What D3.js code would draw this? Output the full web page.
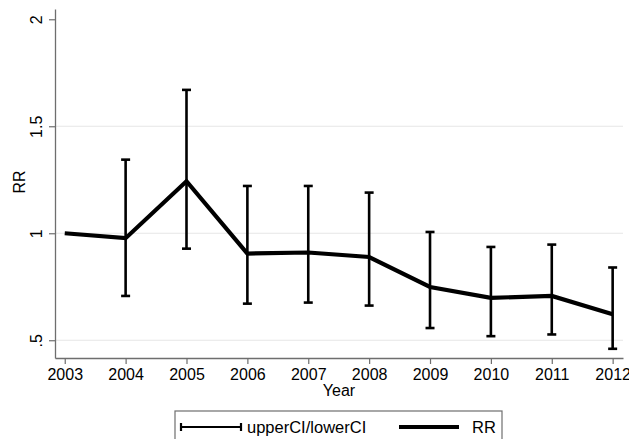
<!DOCTYPE html>
<html>
<head>
<meta charset="utf-8">
<script src="https://cdn.jsdelivr.net/npm/d3@7"></script>
<style>
  body { margin: 0; background: #fff; }
  text { font-family: "Liberation Sans", Arial, Helvetica, sans-serif; }
</style>
</head>
<body>
<div id="chart"></div>
<script>
// data
const years = [2003, 2004, 2005, 2006, 2007, 2008, 2009, 2010, 2011, 2012];
const rr = [1.0, 0.977, 1.243, 0.905, 0.91, 0.889, 0.749, 0.698, 0.707, 0.621];
const upperCI = [null, 1.344, 1.67, 1.221, 1.221, 1.19, 1.006, 0.936, 0.947, 0.84];
const lowerCI = [null, 0.707, 0.928, 0.671, 0.676, 0.662, 0.557, 0.519, 0.527, 0.46];
const yTicks = [0.5, 1, 1.5, 2];
const yTickLabels = [".5", "1", "1.5", "2"];

const W = 629, H = 439;
const margin = { top: 9, right: 6, bottom: 81, left: 55 },
    width = W - margin.left - margin.right,
    height = H - margin.top - margin.bottom;

const svg = d3.select("#chart")
    .append("svg")
    .attr("width", W)
    .attr("height", H)
    .append("g")
    .attr("transform", `translate(${margin.left},${margin.top})`);

const x = d3.scaleLinear()
    .domain([2002.84, 2012.17])
    .range([0, width]);

const y = d3.scaleLinear()
    .domain([0.417, 2.048])
    .range([height, 0]);

const axisColor = "#6e6e6e";

// grid lines (not at the top tick)
svg.append("g")
    .selectAll("line")
    .data(yTicks.filter(d => d < 2))
    .join("line")
    .attr("x1", 0)
    .attr("x2", width)
    .attr("y1", d => y(d))
    .attr("y2", d => y(d))
    .attr("stroke", "#e6e6e6")
    .attr("stroke-width", 1.2);

// y axis
const yAxis = svg.append("g")
    .call(d3.axisLeft(y).tickValues(yTicks)
        .tickFormat((d, i) => yTickLabels[i])
        .tickSize(6).tickSizeOuter(0).tickPadding(6));
yAxis.select(".domain").attr("stroke", axisColor).attr("stroke-width", 1.3);
yAxis.selectAll(".tick line").attr("stroke", axisColor).attr("stroke-width", 1.2);
yAxis.selectAll(".tick text")
    .attr("x", null).attr("dy", null)
    .attr("transform", "translate(-13,0) rotate(-90)")
    .attr("text-anchor", "middle")
    .attr("fill", "#000")
    .style("font-size", "16px");

// x axis
const xAxis = svg.append("g")
    .attr("transform", `translate(0,${height})`)
    .call(d3.axisBottom(x).tickValues(years)
        .tickFormat(d3.format("d"))
        .tickSize(6).tickSizeOuter(0).tickPadding(5));
xAxis.select(".domain").attr("stroke", axisColor).attr("stroke-width", 1.3);
xAxis.selectAll(".tick line").attr("stroke", axisColor).attr("stroke-width", 1.2);
xAxis.selectAll(".tick text")
    .attr("fill", "#000")
    .style("font-size", "16px");

// axis titles
svg.append("text")
    .attr("transform", `translate(${-30},${y(1.24)}) rotate(-90)`)
    .attr("text-anchor", "middle")
    .style("font-size", "16px")
    .text("RR");

svg.append("text")
    .attr("x", width / 2)
    .attr("y", height + 38)
    .attr("text-anchor", "middle")
    .style("font-size", "16px")
    .text("Year");

// error bars
const ci = years.map((yr, i) => ({ year: yr, hi: upperCI[i], lo: lowerCI[i] }))
    .filter(d => d.hi != null);
const capW = 4.5;
const bars = svg.append("g")
    .attr("stroke", "#000")
    .attr("stroke-width", 2.6);
bars.selectAll(".stem")
    .data(ci).join("line")
    .attr("x1", d => x(d.year)).attr("x2", d => x(d.year))
    .attr("y1", d => y(d.hi)).attr("y2", d => y(d.lo));
bars.selectAll(".capHi")
    .data(ci).join("line")
    .attr("x1", d => x(d.year) - capW).attr("x2", d => x(d.year) + capW)
    .attr("y1", d => y(d.hi)).attr("y2", d => y(d.hi));
bars.selectAll(".capLo")
    .data(ci).join("line")
    .attr("x1", d => x(d.year) - capW).attr("x2", d => x(d.year) + capW)
    .attr("y1", d => y(d.lo)).attr("y2", d => y(d.lo));

// RR line
const line = d3.line()
    .x((d, i) => x(years[i]))
    .y(d => y(d));
svg.append("path")
    .datum(rr)
    .attr("fill", "none")
    .attr("stroke", "#000")
    .attr("stroke-width", 4.2)
    .attr("stroke-linejoin", "miter")
    .attr("d", line);

// legend
const legend = d3.select("svg").append("g")
    .attr("transform", "translate(175,411)");
legend.append("rect")
    .attr("x", 0).attr("y", 0)
    .attr("width", 327).attr("height", 40)
    .attr("fill", "#fff")
    .attr("stroke", axisColor)
    .attr("stroke-width", 1.2);
legend.append("line")
    .attr("x1", 6).attr("x2", 66).attr("y1", 16).attr("y2", 16)
    .attr("stroke", "#000").attr("stroke-width", 2.2);
[6, 66].forEach(cx => legend.append("line")
    .attr("x1", cx).attr("x2", cx).attr("y1", 12).attr("y2", 20)
    .attr("stroke", "#000").attr("stroke-width", 2.2));
legend.append("text")
    .attr("x", 72).attr("y", 22)
    .style("font-size", "16.5px")
    .text("upperCI/lowerCI");
legend.append("line")
    .attr("x1", 224).attr("x2", 284).attr("y1", 16).attr("y2", 16)
    .attr("stroke", "#000").attr("stroke-width", 4.2);
legend.append("text")
    .attr("x", 297).attr("y", 22)
    .style("font-size", "16.5px")
    .text("RR");
</script>
</body>
</html>
